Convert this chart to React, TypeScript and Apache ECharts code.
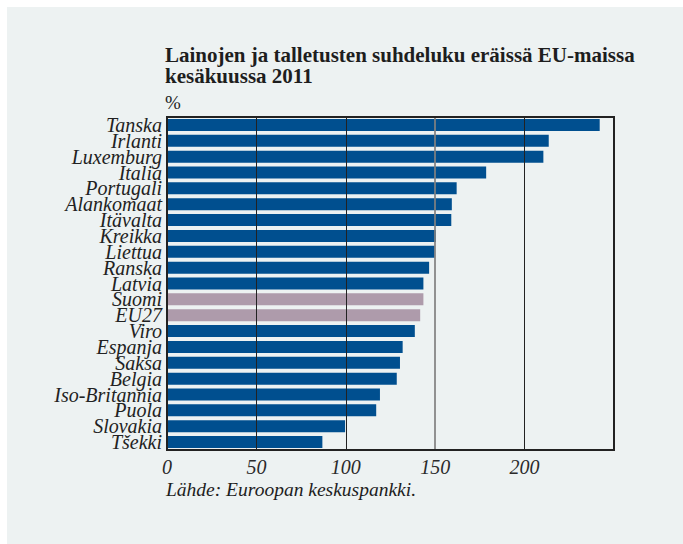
import React, { useEffect, useRef } from "react";
import * as echarts from "echarts";

const categories = [
  "Tanska", "Irlanti", "Luxemburg", "Italia", "Portugali", "Alankomaat", "Itävalta",
  "Kreikka", "Liettua", "Ranska", "Latvia", "Suomi", "EU27", "Viro", "Espanja",
  "Saksa", "Belgia", "Iso-Britannia", "Puola", "Slovakia", "Tšekki",
];
const values = [
  242, 213.5, 210.5, 178.5, 162, 159.3, 159, 150.4, 149.7, 146.6, 143.4, 143.4,
  141.6, 138.6, 131.8, 130.3, 128.5, 119.1, 117, 99.6, 86.9,
];
const highlighted = ["Suomi", "EU27"];
const xTicks = { min: 0, max: 250, interval: 50 };
const greyGridValue = 150;

const titleLines = ["Lainojen ja talletusten suhdeluku eräissä EU-maissa", "kesäkuussa 2011"];
const unitLabel = "%";
const sourceText = "Lähde: Euroopan keskuspankki.";

const SERIF = "Liberation Serif";
const BLUE = "#004f8f";
const MAUVE = "#ae9bab";
const INK = "#1e1e1e";

export default function App() {
  const ref = useRef<HTMLDivElement>(null);
  useEffect(() => {
    if (!ref.current) return;
    const chart = echarts.init(ref.current, undefined, { renderer: "svg" });
    chart.setOption({
      animation: false,
      backgroundColor: "#edf2f2",
      grid: {
        left: 160,
        right: 69,
        top: 110,
        bottom: 94,
        show: true,
        borderColor: "#222",
        borderWidth: 2,
        backgroundColor: "transparent",
        z: 6,
      },
      graphic: [
        {
          type: "text",
          left: 158,
          top: 37,
          style: {
            text: titleLines.join("\n"),
            fontFamily: SERIF,
            fontWeight: "bold",
            fontSize: 21,
            lineHeight: 21,
            fill: INK,
          },
        },
        {
          type: "text",
          left: 158,
          top: 86,
          style: { text: unitLabel, fontFamily: SERIF, fontSize: 19, fill: INK },
        },
        {
          type: "text",
          left: 159,
          top: 472,
          style: { text: sourceText, fontFamily: SERIF, fontStyle: "italic", fontSize: 19.5, fill: INK },
        },
      ],
      xAxis: {
        type: "value",
        min: xTicks.min,
        max: xTicks.max,
        interval: xTicks.interval,
        z: 5,
        axisLine: { show: false },
        axisTick: { show: false },
        axisLabel: {
          showMaxLabel: false,
          margin: 7,
          fontFamily: SERIF,
          fontStyle: "italic",
          fontSize: 20,
          color: "#2a2a2a",
        },
        splitLine: {
          show: true,
          lineStyle: {
            color: ["#222", "#222", "#222", "rgba(0,0,0,0)", "#222", "#222"],
            width: 1,
          },
        },
      },
      yAxis: {
        type: "category",
        data: categories,
        inverse: true,
        axisLine: { show: false },
        axisTick: { show: false },
        axisLabel: {
          interval: 0,
          margin: 5,
          fontFamily: SERIF,
          fontStyle: "italic",
          fontSize: 20,
          lineHeight: 15,
          color: "#222",
        },
      },
      series: [
        {
          type: "bar",
          barWidth: 12,
          data: values.map((v, i) => ({
            value: v,
            itemStyle: { color: highlighted.includes(categories[i]) ? MAUVE : BLUE },
          })),
          markLine: {
            silent: true,
            symbol: "none",
            label: { show: false },
            lineStyle: { color: "#808080", width: 2, type: "solid", opacity: 0.85 },
            data: [{ xAxis: greyGridValue }],
          },
        },
      ],
    });
    return () => chart.dispose();
  }, []);
  return (
    <div
      ref={ref}
      style={{ position: "fixed", left: 7, top: 7, width: 676, height: 537 }}
    />
  );
}
